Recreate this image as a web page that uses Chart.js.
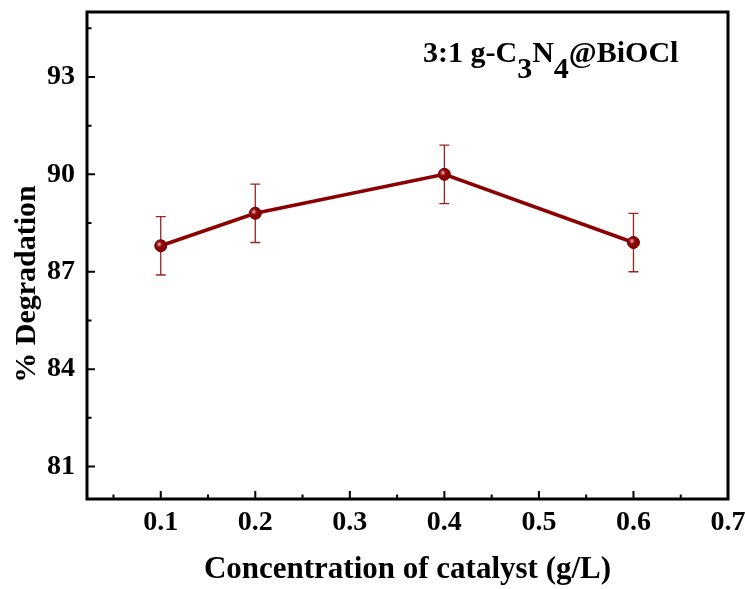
<!DOCTYPE html>
<html>
<head>
<meta charset="utf-8">
<script src="https://cdn.jsdelivr.net/npm/chart.js@4"></script>
<style>
  body { margin: 0; background: #fff; }
  #wrap { width: 745px; height: 589px; }
</style>
</head>
<body>
<div id="wrap"><canvas id="degChart"></canvas></div>
<script>
// data
const concentrations = [0.1, 0.2, 0.4, 0.6];
const degradation = [87.8, 88.8, 90.0, 87.9];
const errors = [0.9, 0.9, 0.9, 0.9];

const xMajorTicks = [0.1, 0.2, 0.3, 0.4, 0.5, 0.6, 0.7];
const xMinorTicks = [0.05, 0.15, 0.25, 0.35, 0.45, 0.55, 0.65];
const yMajorTicks = [81, 84, 87, 90, 93];
const yMinorTicks = [82.5, 85.5, 88.5, 91.5, 94.5];

const RED = '#8b0000';
const SERIF = '"Liberation Serif", "Times New Roman", serif';

const frameAndTicks = {
  id: 'frameAndTicks',
  beforeDatasetsDraw(chart) {
    // error bars under the line
    const ctx = chart.ctx;
    const xs = chart.scales.x, ys = chart.scales.y;
    ctx.save();
    ctx.strokeStyle = '#9a2424';
    ctx.lineWidth = 1.3;
    concentrations.forEach(function(c, i) {
      const px = xs.getPixelForValue(c);
      const top = ys.getPixelForValue(degradation[i] + errors[i]);
      const bot = ys.getPixelForValue(degradation[i] - errors[i]);
      ctx.beginPath();
      ctx.moveTo(px, top); ctx.lineTo(px, bot);
      ctx.moveTo(px - 5, top); ctx.lineTo(px + 5, top);
      ctx.moveTo(px - 5, bot); ctx.lineTo(px + 5, bot);
      ctx.stroke();
    });
    ctx.restore();
  },
  afterDatasetsDraw(chart) {
    // shiny spot on each marker
    const ctx = chart.ctx;
    const meta = chart.getDatasetMeta(0);
    ctx.save();
    meta.data.forEach(function(pt) {
      const g = ctx.createRadialGradient(pt.x - 1.5, pt.y - 1.5, 0, pt.x - 1.5, pt.y - 1.5, 4);
      g.addColorStop(0, 'rgba(255,225,225,0.95)');
      g.addColorStop(1, 'rgba(160,20,20,0)');
      ctx.fillStyle = g;
      ctx.beginPath();
      ctx.arc(pt.x, pt.y, 5.5, 0, Math.PI * 2);
      ctx.fill();
    });
    ctx.restore();
  },
  afterDraw(chart) {
    const ctx = chart.ctx;
    const a = chart.chartArea;
    const xs = chart.scales.x, ys = chart.scales.y;
    ctx.save();
    ctx.strokeStyle = '#000';
    ctx.lineWidth = 3;
    ctx.strokeRect(a.left, a.top, a.right - a.left, a.bottom - a.top);

    ctx.lineWidth = 2;
    ctx.beginPath();
    xMajorTicks.forEach(function(v) {
      const p = xs.getPixelForValue(v);
      ctx.moveTo(p, a.bottom); ctx.lineTo(p, a.bottom - 8);
    });
    xMinorTicks.forEach(function(v) {
      const p = xs.getPixelForValue(v);
      ctx.moveTo(p, a.bottom); ctx.lineTo(p, a.bottom - 4.5);
    });
    yMajorTicks.forEach(function(v) {
      const p = ys.getPixelForValue(v);
      ctx.moveTo(a.left, p); ctx.lineTo(a.left + 8, p);
    });
    yMinorTicks.forEach(function(v) {
      const p = ys.getPixelForValue(v);
      ctx.moveTo(a.left, p); ctx.lineTo(a.left + 4.5, p);
    });
    ctx.stroke();

    // y axis title
    ctx.fillStyle = '#000';
    ctx.font = 'bold 30px ' + SERIF;
    ctx.textAlign = 'center';
    ctx.textBaseline = 'alphabetic';
    ctx.save();
    ctx.translate(35, 284);
    ctx.rotate(-Math.PI / 2);
    ctx.fillText('% Degradation', 0, 0);
    ctx.restore();

    // sample label with subscripts
    const parts = [
      ['3:1 g-C', 0], ['3', 1], ['N', 0], ['4', 1], ['@BiOCl', 0]
    ];
    ctx.textAlign = 'left';
    let x = 423;
    parts.forEach(function(p) {
      ctx.font = 'bold 30px ' + SERIF;
      ctx.fillText(p[0], x, p[1] ? 78 : 62);
      x += ctx.measureText(p[0]).width;
    });
    ctx.restore();
  }
};

new Chart(document.getElementById('degChart'), {
  type: 'line',
  data: {
    datasets: [{
      data: concentrations.map(function(c, i) { return { x: c, y: degradation[i] }; }),
      borderColor: RED,
      borderWidth: 3.5,
      pointRadius: 6,
      pointBackgroundColor: RED,
      pointBorderColor: '#6a0000',
      pointBorderWidth: 1,
      tension: 0
    }]
  },
  options: {
    responsive: true,
    maintainAspectRatio: false,
    animation: false,
    layout: { padding: { left: 0, right: 17, top: 12, bottom: 0 } },
    plugins: {
      legend: { display: false },
      tooltip: { enabled: false }
    },
    scales: {
      x: {
        type: 'linear',
        min: 0.022,
        max: 0.7,
        grid: { display: false, drawTicks: false },
        border: { display: false },
        afterBuildTicks: function(scale) {
          scale.ticks = xMajorTicks.map(function(v) { return { value: v }; });
        },
        afterFit: function(scale) {
          scale.height = 90;
          scale.paddingLeft = 0;
          scale.paddingRight = 0;
        },
        ticks: {
          autoSkip: false,
          maxRotation: 0,
          padding: 7,
          color: '#000',
          font: { family: SERIF, size: 28, weight: 'bold' },
          callback: function(v) { return v.toFixed(1); }
        },
        title: {
          display: true,
          text: 'Concentration of catalyst (g/L)',
          color: '#000',
          padding: { top: 0, bottom: 0 },
          font: { family: SERIF, size: 31, weight: 'bold' }
        }
      },
      y: {
        min: 80,
        max: 95,
        grid: { display: false, drawTicks: false },
        border: { display: false },
        afterBuildTicks: function(scale) {
          scale.ticks = yMajorTicks.map(function(v) { return { value: v }; });
        },
        afterFit: function(scale) {
          scale.width = 87;
          scale.paddingTop = 0;
          scale.paddingBottom = 0;
        },
        ticks: {
          autoSkip: false,
          padding: 12,
          color: '#000',
          font: { family: SERIF, size: 28, weight: 'bold' }
        }
      }
    }
  },
  plugins: [frameAndTicks]
});
</script>
</body>
</html>
